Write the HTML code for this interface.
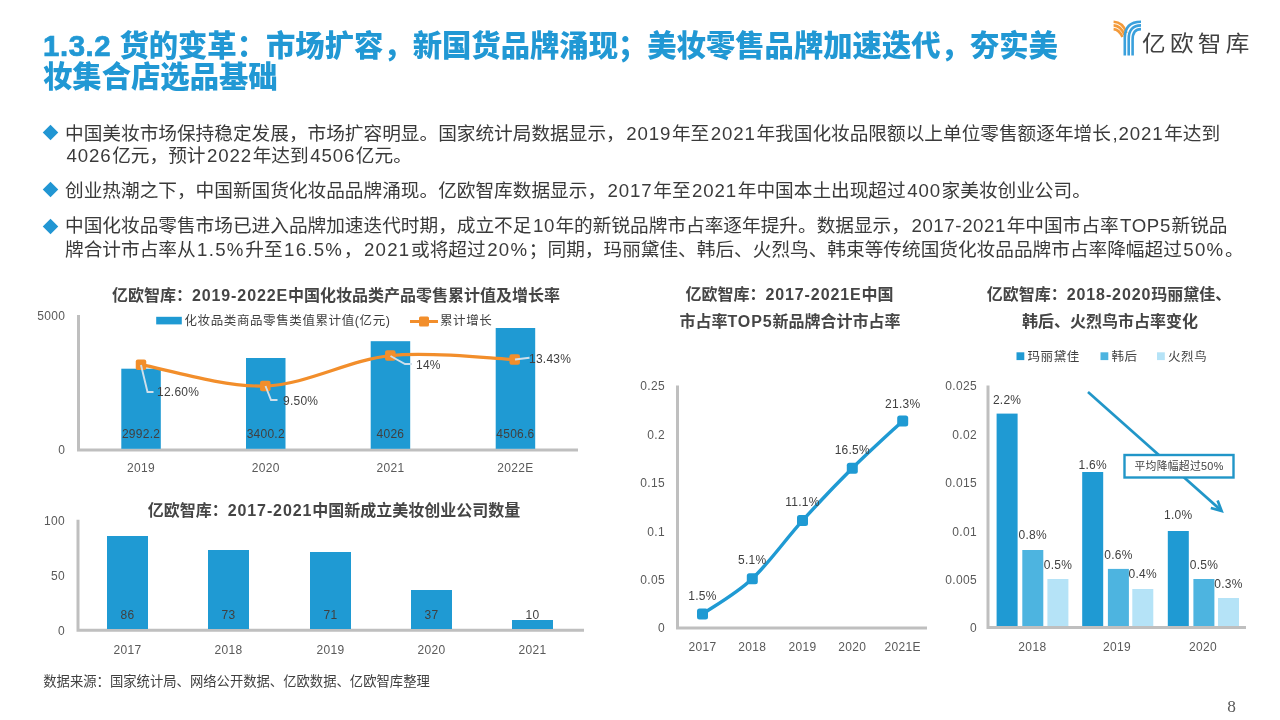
<!DOCTYPE html>
<html lang="zh-CN">
<head>
<meta charset="utf-8">
<title>1.3.2 货的变革</title>
<style>
html,body{margin:0;padding:0;background:#fff;}
body{width:1280px;height:720px;position:relative;overflow:hidden;font-family:"Liberation Sans","Noto Sans CJK SC",sans-serif;}
.abs{position:absolute;white-space:nowrap;}
.title{left:43px;color:#2198d4;font-weight:900;font-size:29.33px;line-height:30px;}
.title .l{letter-spacing:0.6px;-webkit-text-stroke:0.7px #2198d4;}
.body{left:65px;color:#3a3a3a;font-size:18.67px;line-height:24px;}
.body .l{letter-spacing:0.9px;margin:0 0.6px 0 1.5px;}
.body .l2{letter-spacing:0.6px;}
.body .l3{letter-spacing:1.25px;}
.dia{position:absolute;width:11px;height:11px;background:#2196d3;transform:rotate(45deg);left:44.9px;}
svg text{font-family:"Liberation Sans","Noto Sans CJK SC",sans-serif;}
.ct{font-weight:700;font-size:16px;fill:#454545;text-anchor:middle;}
.tl{letter-spacing:0.9px;}
.ax{font-size:12px;fill:#595959;letter-spacing:0.35px;}
.dl{font-size:12px;fill:#404040;letter-spacing:0.25px;text-anchor:middle;}
.lg{font-size:12.5px;fill:#404040;letter-spacing:0.6px;}
.e{text-anchor:end;}
.m{text-anchor:middle;}
</style>
</head>
<body>
<div class="abs title" style="top:31px;"><span class="l">1.3.2</span> 货的变革：市场扩容，新国货品牌涌现；美妆零售品牌加速迭代，夯实美</div>
<div class="abs title" style="top:61.5px;">妆集合店选品基础</div>
<div class="dia" style="top:126.7px;"></div>
<div class="abs body" style="top:121.7px;">中国美妆市场保持稳定发展，市场扩容明显。国家统计局数据显示，<span class="l">2019</span>年至<span class="l">2021</span>年我国化妆品限额以上单位零售额逐年增长<span class="l">,2021</span>年达到</div>
<div class="abs body" style="top:143.8px;"><span class="l">4026</span>亿元，预计<span class="l">2022</span>年达到<span class="l">4506</span>亿元。</div>
<div class="dia" style="top:184.1px;"></div>
<div class="abs body" style="top:178.8px;">创业热潮之下，中国新国货化妆品品牌涌现。亿欧智库数据显示，<span class="l">2017</span>年至<span class="l">2021</span>年中国本土出现超过<span class="l">400</span>家美妆创业公司。</div>
<div class="dia" style="top:221.4px;"></div>
<div class="abs body" style="top:214.3px;">中国化妆品零售市场已进入品牌加速迭代时期，成立不足<span class="l l2">10</span>年的新锐品牌市占率逐年提升。数据显示，<span class="l l2">2017-2021</span>年中国市占率<span class="l l2">TOP5</span>新锐品</div>
<div class="abs body" style="top:237.5px;">牌合计市占率从<span class="l l3">1.5%</span>升至<span class="l l3">16.5%</span>，<span class="l l3">2021</span>或将超过<span class="l l3">20%</span>；同期，玛丽黛佳、韩后、火烈鸟、韩束等传统国货化妆品品牌市占率降幅超过<span class="l l3">50%</span>。</div>
<svg class="abs" style="left:0;top:0" width="1280" height="720" viewBox="0 0 1280 720">
<g fill="none" stroke-width="2.6">
<path d="M1113.6 21.7 Q1123 22 1126.5 33" stroke="#f39a3a"/>
<path d="M1113.6 25.4 Q1120.8 25.7 1124.5 35" stroke="#f39a3a"/>
<path d="M1113.6 29.1 Q1119 29.4 1122.5 37" stroke="#f39a3a"/>
<path d="M1124.8 55.5 V38 Q1124.8 21.7 1141 21.7" stroke="#3aa0dc"/>
<path d="M1128.7 55.5 V39 Q1128.7 25.4 1141 25.4" stroke="#3aa0dc"/>
<path d="M1132.6 55.5 V40 Q1132.6 29.1 1141 29.1" stroke="#3aa0dc"/>
</g>
<text transform="translate(1142,51.4) scale(1.1,1)" x="0" y="0" style="font-size:21.5px;font-weight:400;fill:#404040;letter-spacing:3.9px;">亿欧智库</text>
<text class="ct" x="336" y="300.5">亿欧智库：<tspan class="tl">2019-2022E</tspan>中国化妆品类产品零售累计值及增长率</text>
<path d="M78.5 315 V450 H578" fill="none" stroke="#bfbfbf" stroke-width="3"/>
<rect x="121.3" y="368.7" width="39.5" height="80.1" fill="#1f9ad3"/>
<text class="dl" x="141.05" y="437.7">2992.2</text>
<text class="ax m" x="141.05" y="472.2">2019</text>
<rect x="246" y="358" width="39.5" height="90.8" fill="#1f9ad3"/>
<text class="dl" x="265.75" y="437.7">3400.2</text>
<text class="ax m" x="265.75" y="472.2">2020</text>
<rect x="370.7" y="341.2" width="39.5" height="107.6" fill="#1f9ad3"/>
<text class="dl" x="390.45" y="437.7">4026</text>
<text class="ax m" x="390.45" y="472.2">2021</text>
<rect x="495.7" y="328" width="39.5" height="120.8" fill="#1f9ad3"/>
<text class="dl" x="515.45" y="437.7">4506.6</text>
<text class="ax m" x="515.45" y="472.2">2022E</text>
<text class="ax e" x="65.3" y="319.7">5000</text><text class="ax e" x="65.3" y="453.5">0</text>
<rect x="156.2" y="316.8" width="25.6" height="7.6" fill="#1f9ad3"/><text class="lg" x="184.5" y="324.8">化妆品类商品零售类值累计值(亿元)</text>
<path d="M410 321.5 H438" stroke="#f28e2b" stroke-width="3"/><rect x="419" y="316.5" width="10" height="10" rx="1.5" fill="#f28e2b"/><text class="lg" x="440" y="324.8">累计增长</text>
<path d="M141 364.7 C161.7 368.2 223.8 387.5 265.3 386 C306.9 384.5 348.7 360.0 390.3 355.6 C431.9 351.2 494.0 358.9 514.7 359.5" fill="none" stroke="#f28e2b" stroke-width="3.2" stroke-linecap="round"/>
<rect x="135.75" y="359.45" width="10.5" height="10.5" rx="2" fill="#f28e2b"/>
<rect x="260.05" y="380.75" width="10.5" height="10.5" rx="2" fill="#f28e2b"/>
<rect x="385.05" y="350.35" width="10.5" height="10.5" rx="2" fill="#f28e2b"/>
<rect x="509.45" y="354.25" width="10.5" height="10.5" rx="2" fill="#f28e2b"/>
<g fill="none" stroke="#cfdfeb" stroke-width="1.9"><path d="M141 365 L147.5 392 H153.5"/><path d="M265.5 386 L271 400 H277.5"/><path d="M390.5 356 L405 364 H412"/><path d="M515 359.5 L529.5 357.8"/></g>
<text class="dl" style="text-anchor:start" x="157" y="396.2">12.60%</text><text class="dl" style="text-anchor:start" x="283" y="404.5">9.50%</text><text class="dl" style="text-anchor:start" x="416" y="368.5">14%</text><text class="dl" style="text-anchor:start" x="529" y="362.5">13.43%</text>
<text class="ct" x="334" y="516">亿欧智库：<tspan class="tl">2017-2021</tspan>中国新成立美妆创业公司数量</text>
<path d="M78 519.7 V630.3 H584" fill="none" stroke="#bfbfbf" stroke-width="3"/>
<rect x="107" y="536" width="41" height="93" fill="#1f9ad3"/>
<text class="dl" x="127.5" y="618.5">86</text>
<text class="ax m" x="127.5" y="653.5">2017</text>
<rect x="208" y="550" width="41" height="79" fill="#1f9ad3"/>
<text class="dl" x="228.5" y="618.5">73</text>
<text class="ax m" x="228.5" y="653.5">2018</text>
<rect x="310" y="552" width="41" height="77" fill="#1f9ad3"/>
<text class="dl" x="330.5" y="618.5">71</text>
<text class="ax m" x="330.5" y="653.5">2019</text>
<rect x="411" y="590" width="41" height="39" fill="#1f9ad3"/>
<text class="dl" x="431.5" y="618.5">37</text>
<text class="ax m" x="431.5" y="653.5">2020</text>
<rect x="512" y="620" width="41" height="9" fill="#1f9ad3"/>
<text class="dl" x="532.5" y="618.5">10</text>
<text class="ax m" x="532.5" y="653.5">2021</text>
<text class="ax e" x="65" y="524.5">100</text><text class="ax e" x="65" y="579.7">50</text><text class="ax e" x="65" y="634.5">0</text>
<text class="ct" x="789.5" y="300">亿欧智库：<tspan class="tl">2017-2021E</tspan>中国</text><text class="ct" x="790" y="327">市占率<tspan class="tl">TOP5</tspan>新品牌合计市占率</text>
<path d="M677.5 385.5 V628 H927" fill="none" stroke="#bfbfbf" stroke-width="3"/>
<text class="ax e" x="665" y="390.1">0.25</text><text class="ax e" x="665" y="438.6">0.2</text><text class="ax e" x="665" y="487.1">0.15</text><text class="ax e" x="665" y="535.6">0.1</text><text class="ax e" x="665" y="584.1">0.05</text><text class="ax e" x="665" y="632.1">0</text>
<path d="M702.5 614 C710.8 608.1 735.6 594.3 752.3 578.7 C769.0 563.1 785.8 539.0 802.5 520.6 C819.2 502.2 835.6 484.9 852.3 468.3 C869.0 451.7 894.3 428.9 902.7 421" fill="none" stroke="#1f9ad3" stroke-width="3.4" stroke-linejoin="round"/>
<rect x="697" y="608.5" width="11" height="11" rx="2.5" fill="#1f9ad3"/><text class="dl" x="702.5" y="599.5">1.5%</text><text class="ax m" x="702.5" y="650.6">2017</text>
<rect x="746.8" y="573.2" width="11" height="11" rx="2.5" fill="#1f9ad3"/><text class="dl" x="752.3" y="563.5">5.1%</text><text class="ax m" x="752.3" y="650.6">2018</text>
<rect x="797" y="515.1" width="11" height="11" rx="2.5" fill="#1f9ad3"/><text class="dl" x="802.5" y="505.5">11.1%</text><text class="ax m" x="802.5" y="650.6">2019</text>
<rect x="846.8" y="462.8" width="11" height="11" rx="2.5" fill="#1f9ad3"/><text class="dl" x="852.3" y="453.5">16.5%</text><text class="ax m" x="852.3" y="650.6">2020</text>
<rect x="897.2" y="415.5" width="11" height="11" rx="2.5" fill="#1f9ad3"/><text class="dl" x="902.7" y="407.5">21.3%</text><text class="ax m" x="902.7" y="650.6">2021E</text>
<text class="ct" x="1109" y="300">亿欧智库：<tspan class="tl">2018-2020</tspan>玛丽黛佳、</text><text class="ct" x="1110" y="327">韩后、火烈鸟市占率变化</text>
<path d="M988 385.5 V627.5 H1246" fill="none" stroke="#bfbfbf" stroke-width="3"/>
<text class="ax e" x="977" y="390.1">0.025</text><text class="ax e" x="977" y="438.6">0.02</text><text class="ax e" x="977" y="487.1">0.015</text><text class="ax e" x="977" y="535.6">0.01</text><text class="ax e" x="977" y="583.7">0.005</text><text class="ax e" x="977" y="632.1">0</text>
<rect x="1016.5" y="352.3" width="7.8" height="7.8" fill="#1f9ad3"/><text class="lg" x="1027.5" y="361">玛丽黛佳</text><rect x="1100.5" y="352.3" width="7.8" height="7.8" fill="#4db4e0"/><text class="lg" x="1111.5" y="361">韩后</text><rect x="1157" y="352.3" width="7.8" height="7.8" fill="#b5e3f7"/><text class="lg" x="1168" y="361">火烈鸟</text>
<rect x="996.6" y="413.6" width="21" height="212.4" fill="#1f9ad3"/><rect x="1022.3" y="550" width="21" height="76" fill="#4db4e0"/><rect x="1047.4" y="579" width="21" height="47" fill="#b5e3f7"/><rect x="1082.2" y="472" width="21" height="154" fill="#1f9ad3"/><rect x="1107.9" y="568.9" width="21" height="57.1" fill="#4db4e0"/><rect x="1132.3" y="589" width="21" height="37" fill="#b5e3f7"/><rect x="1167.8" y="531" width="21" height="95" fill="#1f9ad3"/><rect x="1193.4" y="579" width="21" height="47" fill="#4db4e0"/><rect x="1218" y="598" width="21" height="28" fill="#b5e3f7"/><text class="dl" x="1007.1" y="403.5">2.2%</text><text class="dl" x="1032.8" y="539.2">0.8%</text><text class="dl" x="1057.9" y="568.5">0.5%</text><text class="dl" x="1092.7" y="469.2">1.6%</text><text class="dl" x="1118.4" y="558.5">0.6%</text><text class="dl" x="1142.8" y="577.5">0.4%</text><text class="dl" x="1178.3" y="519.3">1.0%</text><text class="dl" x="1203.9" y="568.5">0.5%</text><text class="dl" x="1228.5" y="587.5">0.3%</text>
<text class="ax m" x="1032.4" y="650.6">2018</text><text class="ax m" x="1117" y="650.6">2019</text><text class="ax m" x="1203" y="650.6">2020</text>
<g fill="none" stroke="#2196c8" stroke-width="2.7"><path d="M1088 392 L1221.3 510.6"/><path d="M1210.8 508 L1221.6 510.9 L1217.6 500.5" stroke-linejoin="miter"/></g>
<rect x="1124.5" y="455" width="109" height="22.5" fill="#fff" stroke="#2196c8" stroke-width="2.4"/>
<text x="1179" y="470" class="m" style="font-size:10.8px;fill:#404040;letter-spacing:0.3px;">平均降幅超过50%</text>
<text x="1227.3" y="711.8" style="font-family:'Liberation Serif',serif;font-size:17.3px;fill:#595959;">8</text>
</svg>
<div class="abs" style="left:43.3px;top:671.2px;font-size:13.33px;color:#404040;">数据来源：国家统计局、网络公开数据、亿欧数据、亿欧智库整理</div>
</body>
</html>
